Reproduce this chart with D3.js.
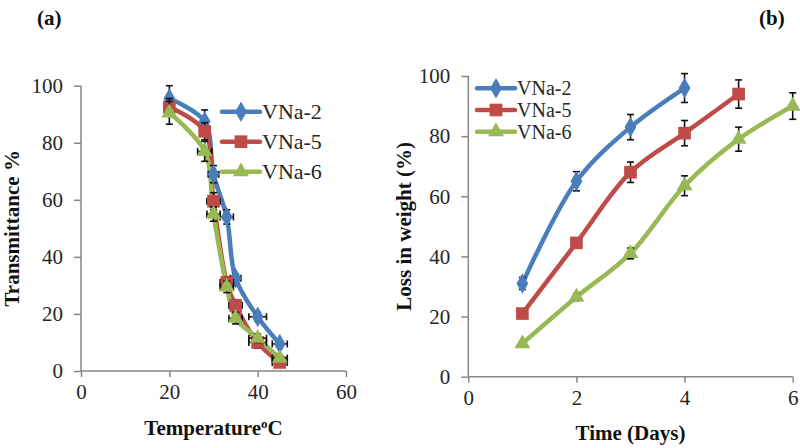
<!DOCTYPE html>
<html><head><meta charset="utf-8">
<script src="https://cdn.jsdelivr.net/npm/d3@7"></script>
<style>body{margin:0;background:#fff}svg{display:block}text{font-family:"Liberation Serif",serif}</style>
</head><body><svg id="c" width="800" height="448"></svg>
<script>
// ---- Panel (a) data ----
const seriesNames = ["VNa-2", "VNa-5", "VNa-6"];
const tempC = [20, 28, 30, 33, 35, 40, 45];
const transVNa2 = [95.5, 87.5, 69, 54, 32.5, 19, 9.5];
const transVNa5 = [92.5, 84, 59.5, 31, 23, 10, 3];
const transVNa6 = [90.5, 77, 55, 29.5, 18.5, 11.5, 4.5];
const transYErrVNa2 = [4.5, 4, 3, 2.5, 1.5, 1.5, 1];
const transYErrVNa5 = [3, 3, 3, 2, 2, 2, 1];
const transYErrVNa6 = [4, 3.5, 2.5, 2, 2, 1.5, 1];
const transXErrVNa2 = [0, 0, 1.2, 1.5, 1.2, 2, 1.7];
const transXErrVNa5 = [0, 0.8, 1.5, 1.5, 1.5, 2, 1.7];
const transXErrVNa6 = [0, 1.6, 1.5, 1.5, 1.5, 2, 1.7];
const tempTicks = [0, 20, 40, 60];
const transTicks = [0, 20, 40, 60, 80, 100];

// ---- Panel (b) data ----
const days = [1, 2, 3, 4, 5, 6];
const lossVNa2 = [31, 65, 83, 96];
const lossVNa5 = [21, 44.5, 68, 81, 94];
const lossVNa6 = [11, 26.5, 41, 63.5, 79, 90];
const lossErrVNa2 = [2, 3.2, 4.2, 4.8];
const lossErrVNa5 = [0.8, 1, 3.4, 4.2, 4.7];
const lossErrVNa6 = [0.5, 1.2, 1.8, 3.3, 4, 4.4];
const dayTicks = [0, 2, 4, 6];
const lossTicks = [0, 20, 40, 60, 80, 100];

const colors = ["#4A7EBB", "#BE4B48", "#98B954"];
const markers = ["diamond", "square", "triangle"];
const axisColor = "#868686";
const textColor = "#262626";
const FONT = "Liberation Serif";

const svg = d3.select("#c");

function markerPath(type) {
  if (type === "diamond") return d3.symbol(d3.symbolDiamond, 120)();
  if (type === "square") return d3.symbol(d3.symbolSquare, 160)();
  return d3.symbol(d3.symbolTriangle, 110)();
}

function drawPanel(cfg) {
  const x = d3.scaleLinear().domain(cfg.xDomain).range([cfg.left, cfg.right]);
  const y = d3.scaleLinear().domain(cfg.yDomain).range([cfg.bottom, cfg.top]);
  const g = svg.append("g");

  const xAxis = d3.axisBottom(x).tickValues(cfg.xTicks).tickSize(6).tickPadding(7).tickFormat(d3.format("d"));
  const yAxis = d3.axisLeft(y).tickValues(cfg.yTicks).tickSize(7).tickPadding(11).tickFormat(d3.format("d"));
  const gx = g.append("g").attr("transform", `translate(0,${cfg.bottom})`).call(xAxis);
  const gy = g.append("g").attr("transform", `translate(${cfg.left},0)`).call(yAxis);
  [gx, gy].forEach(a => {
    a.attr("font-family", FONT).attr("font-size", 21);
    a.select(".domain").attr("stroke", axisColor).attr("stroke-width", 1.5);
    a.selectAll(".tick line").attr("stroke", axisColor).attr("stroke-width", 1.5);
    a.selectAll(".tick text").attr("fill", textColor).attr("font-family", FONT).attr("font-size", 21);
  });
  gy.select(".domain").attr("d", `M0,${cfg.bottom}V${cfg.top}`);
  gx.select(".domain").attr("d", `M${cfg.left},0H${cfg.right}`);

  const line = d3.line().curve(d3.curveCatmullRom.alpha(0.5)).x(d => x(d.x)).y(d => y(d.y));

  const allPts = cfg.series.map(s => s.y.map((v, j) => ({x: cfg.xs[j], y: v, ey: s.ey ? s.ey[j] : 0, ex: s.ex ? s.ex[j] : 0})));

  allPts.forEach((pts, i) => {
    g.append("path").datum(pts).attr("d", line).attr("fill", "none")
      .attr("stroke", colors[i]).attr("stroke-width", 4.5).attr("stroke-linejoin", "round");
  });
  allPts.forEach((pts, i) => {
    const eb = g.append("g").attr("stroke", "#111").attr("stroke-width", 1.6);
    pts.forEach(p => {
      if (p.ey > 0) {
        const cx = x(p.x), y1 = y(p.y + p.ey), y2 = y(p.y - p.ey);
        eb.append("line").attr("x1", cx).attr("x2", cx).attr("y1", y1).attr("y2", y2);
        eb.append("line").attr("x1", cx - 3.5).attr("x2", cx + 3.5).attr("y1", y1).attr("y2", y1);
        eb.append("line").attr("x1", cx - 3.5).attr("x2", cx + 3.5).attr("y1", y2).attr("y2", y2);
      }
      if (p.ex > 0) {
        const cy = y(p.y), x1 = x(p.x - p.ex), x2 = x(p.x + p.ex);
        eb.append("line").attr("x1", x1).attr("x2", x2).attr("y1", cy).attr("y2", cy);
        eb.append("line").attr("x1", x1).attr("x2", x1).attr("y1", cy - 3.5).attr("y2", cy + 3.5);
        eb.append("line").attr("x1", x2).attr("x2", x2).attr("y1", cy - 3.5).attr("y2", cy + 3.5);
      }
    });
    g.append("g").selectAll("path").data(pts).join("path")
      .attr("d", markerPath(markers[i]))
      .attr("transform", d => `translate(${x(d.x)},${y(d.y)})`)
      .attr("fill", colors[i]);
  });

  // legend
  const lg = g.append("g");
  seriesNames.forEach((n, i) => {
    const ly = cfg.legY + i * cfg.legGap;
    lg.append("line").attr("x1", cfg.legX).attr("x2", cfg.legX + 38).attr("y1", ly).attr("y2", ly)
      .attr("stroke", colors[i]).attr("stroke-width", 4.5).attr("stroke-linecap", "round");
    lg.append("path").attr("d", markerPath(markers[i])).attr("transform", `translate(${cfg.legX + 19},${ly})`).attr("fill", colors[i]);
    lg.append("text").attr("x", cfg.legX + 40).attr("y", ly + 7).text(n)
      .attr("fill", textColor).attr("font-family", FONT).attr("font-size", cfg.legFont);
  });

  // titles
  const xt = g.append("text").attr("x", (cfg.left + cfg.right) / 2).attr("y", cfg.xTitleY)
    .attr("text-anchor", "middle").attr("font-family", FONT).attr("font-size", 21).attr("font-weight", "bold").attr("fill", "#111");
  cfg.xTitle(xt);
  g.append("text").attr("transform", `translate(${cfg.yTitleX},${(cfg.top + cfg.bottom) / 2}) rotate(-90)`)
    .attr("text-anchor", "middle").attr("font-family", FONT).attr("font-size", 21).attr("font-weight", "bold").attr("fill", "#111")
    .text(cfg.yTitle);
  g.append("text").attr("x", cfg.panelX).attr("y", 25).text(cfg.panel)
    .attr("font-family", FONT).attr("font-size", 21).attr("font-weight", "bold").attr("fill", "#111");
}

drawPanel({
  left: 81, right: 346, top: 85.7, bottom: 371,
  xDomain: [0, 60], yDomain: [0, 100], xTicks: tempTicks, yTicks: transTicks,
  xs: tempC,
  series: [
    {y: transVNa2, ey: transYErrVNa2, ex: transXErrVNa2},
    {y: transVNa5, ey: transYErrVNa5, ex: transXErrVNa5},
    {y: transVNa6, ey: transYErrVNa6, ex: transXErrVNa6}
  ],
  legX: 222, legY: 111.7, legGap: 30, legFont: 22,
  xTitleY: 435,
  xTitle: t => { t.append("tspan").text("Temperature"); t.append("tspan").attr("baseline-shift", "super").attr("font-size", 13).text("o"); t.append("tspan").text("C"); },
  yTitleX: 19, yTitle: "Transmittance %",
  panelX: 37, panel: "(a)"
});

drawPanel({
  left: 468.3, right: 792.7, top: 76, bottom: 376.7,
  xDomain: [0, 6], yDomain: [0, 100], xTicks: dayTicks, yTicks: lossTicks,
  xs: days,
  series: [
    {y: lossVNa2, ey: lossErrVNa2},
    {y: lossVNa5, ey: lossErrVNa5},
    {y: lossVNa6, ey: lossErrVNa6}
  ],
  legX: 477, legY: 88.3, legGap: 21.7, legFont: 20,
  xTitleY: 440,
  xTitle: t => t.text("Time (Days)"),
  yTitleX: 411, yTitle: "Loss in weight (%)",
  panelX: 759, panel: "(b)"
});
</script></body></html>
